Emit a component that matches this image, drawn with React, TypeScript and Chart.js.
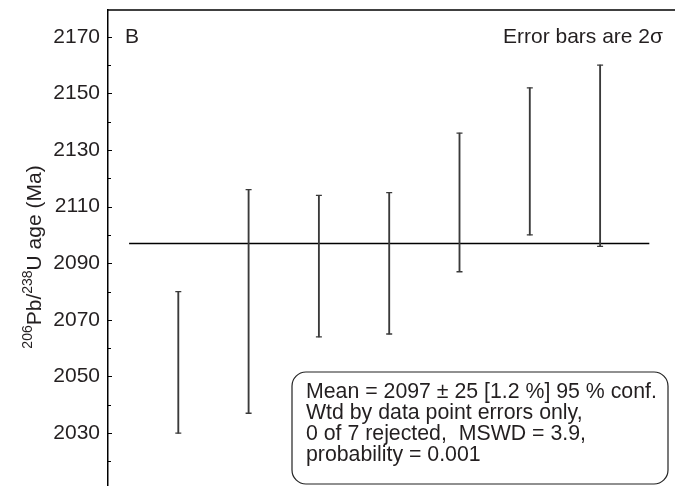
import React, { useEffect, useRef } from "react";
import { Chart, registerables } from "chart.js";

Chart.register(...registerables);

// ---- data ----
const spotIndex = [1, 2, 3, 4, 5, 6, 7];
const ages = [2055, 2076.5, 2089, 2090, 2111.5, 2126, 2128];
const errors2s = [25, 39.5, 25, 25, 24.5, 26, 32];
const meanAge = 2097;
const meanSpan = [0.3, 7.7];
const yMajorTicks = [2030, 2050, 2070, 2090, 2110, 2130, 2150, 2170];
const yMinorTicks = [2020, 2040, 2060, 2080, 2100, 2120, 2140, 2160];
const panelLabel = "B";
const errorNote = "Error bars are 2σ";
const statsLines = [
  "Mean = 2097 ± 25 [1.2 %] 95 % conf.",
  "Wtd by data point errors only,",
  "0 of 7 rejected,  MSWD = 3.9,",
  "probability = 0.001",
];

const FONT = '"Liberation Sans", Arial, Helvetica, sans-serif';
const TEXT = "#231f20";
const BAR = "#3a3a3a";

const overlayPlugin = {
  id: "overlay",
  afterDraw(chart: any) {
    const ctx = chart.ctx;
    const ca = chart.chartArea;
    const y = chart.scales.y;
    ctx.save();
    // top frame line
    ctx.strokeStyle = "#000";
    ctx.lineWidth = 1.5;
    ctx.beginPath();
    ctx.moveTo(ca.left, ca.top);
    ctx.lineTo(chart.width, ca.top);
    ctx.stroke();
    // inward ticks
    ctx.lineWidth = 1;
    ctx.beginPath();
    yMajorTicks.forEach((v) => {
      const py = Math.round(y.getPixelForValue(v)) + 0.5;
      ctx.moveTo(ca.left, py);
      ctx.lineTo(ca.left + 4, py);
    });
    yMinorTicks.forEach((v) => {
      const py = Math.round(y.getPixelForValue(v)) + 0.5;
      ctx.moveTo(ca.left, py);
      ctx.lineTo(ca.left + 3, py);
    });
    ctx.stroke();

    // labels
    ctx.fillStyle = TEXT;
    ctx.font = `21px ${FONT}`;
    ctx.textBaseline = "middle";
    ctx.textAlign = "left";
    ctx.fillText(panelLabel, ca.left + 17, 37);
    ctx.textAlign = "right";
    ctx.fillText(errorNote, 663, 37);

    // stats box
    const bx = 292, by = 372, bw = 376, bh = 112, r = 14;
    ctx.strokeStyle = "#222";
    ctx.lineWidth = 1.2;
    ctx.beginPath();
    ctx.moveTo(bx + r, by);
    ctx.lineTo(bx + bw - r, by);
    ctx.arcTo(bx + bw, by, bx + bw, by + r, r);
    ctx.lineTo(bx + bw, by + bh - r);
    ctx.arcTo(bx + bw, by + bh, bx + bw - r, by + bh, r);
    ctx.lineTo(bx + r, by + bh);
    ctx.arcTo(bx, by + bh, bx, by + bh - r, r);
    ctx.lineTo(bx, by + r);
    ctx.arcTo(bx, by, bx + r, by, r);
    ctx.closePath();
    ctx.fillStyle = "#fff";
    ctx.fill();
    ctx.stroke();
    ctx.fillStyle = TEXT;
    ctx.font = `21.3px ${FONT}`;
    ctx.textAlign = "left";
    ctx.textBaseline = "middle";
    statsLines.forEach((line, i) => {
      ctx.fillText(line, 306, 392 + i * 21);
    });

    // y-axis title with superscripts
    ctx.translate(33, 257);
    ctx.rotate(-Math.PI / 2);
    const parts: [string, boolean][] = [
      ["206", true],
      ["Pb/", false],
      ["238", true],
      ["U age (Ma)", false],
    ];
    const big = `21px ${FONT}`;
    const small = `14px ${FONT}`;
    let total = 0;
    parts.forEach(([t, sup]) => {
      ctx.font = sup ? small : big;
      total += ctx.measureText(t).width;
    });
    let x = -total / 2;
    ctx.textAlign = "left";
    ctx.textBaseline = "alphabetic";
    parts.forEach(([t, sup]) => {
      ctx.font = sup ? small : big;
      ctx.fillText(t, x, sup ? -1 : 8);
      x += ctx.measureText(t).width;
    });
    ctx.restore();
  },
};

export default function App() {
  const ref = useRef<HTMLCanvasElement | null>(null);
  useEffect(() => {
    if (!ref.current) return;
    const bars = spotIndex.map((s, i) => ({ x: s, y: [ages[i] - errors2s[i], ages[i] + errors2s[i]] }));
    const caps = spotIndex.flatMap((s, i) => [
      { x: s, y: ages[i] - errors2s[i] },
      { x: s, y: ages[i] + errors2s[i] },
    ]);
    const chart = new Chart(ref.current, {
      type: "bar",
      data: {
        datasets: [
          {
            type: "bar",
            data: bars as any,
            backgroundColor: BAR,
            borderWidth: 0,
            barThickness: 1.2,
            grouped: false,
          } as any,
          {
            type: "scatter",
            data: caps,
            pointStyle: "line",
            pointRadius: 3,
            borderColor: BAR,
            borderWidth: 1.3,
            backgroundColor: BAR,
          } as any,
          {
            type: "line",
            data: meanSpan.map((x) => ({ x, y: meanAge })),
            borderColor: "#000",
            borderWidth: 1.5,
            pointRadius: 0,
          } as any,
        ],
      },
      options: {
        animation: false,
        responsive: false,
        layout: { padding: { top: 10, left: 0, right: 0, bottom: 0 } },
        plugins: { legend: { display: false }, tooltip: { enabled: false } },
        events: [],
        scales: {
          x: {
            type: "linear",
            min: 0,
            max: 7.99,
            offset: false,
            display: false,
          },
          y: {
            type: "linear",
            min: 2011.4,
            max: 2179.5,
            afterFit: (s: any) => {
              s.width = 108;
              s.paddingTop = 0;
              s.paddingBottom = 0;
            },
            afterBuildTicks: (s: any) => {
              s.ticks = yMajorTicks.map((v) => ({ value: v }));
            },
            ticks: {
              padding: 8,
              color: TEXT,
              font: { family: FONT, size: 21 },
              callback: (v: any) => String(v),
            },
            grid: { display: false, drawTicks: false },
            border: { display: true, color: "#000", width: 1.5 },
          },
        },
      },
      plugins: [overlayPlugin],
    } as any);
    return () => chart.destroy();
  }, []);
  return (
    <div style={{ position: "fixed", left: 0, top: 0, width: 675, height: 491, background: "#fff" }}>
      <canvas ref={ref} width={675} height={491} style={{ display: "block" }} />
    </div>
  );
}
